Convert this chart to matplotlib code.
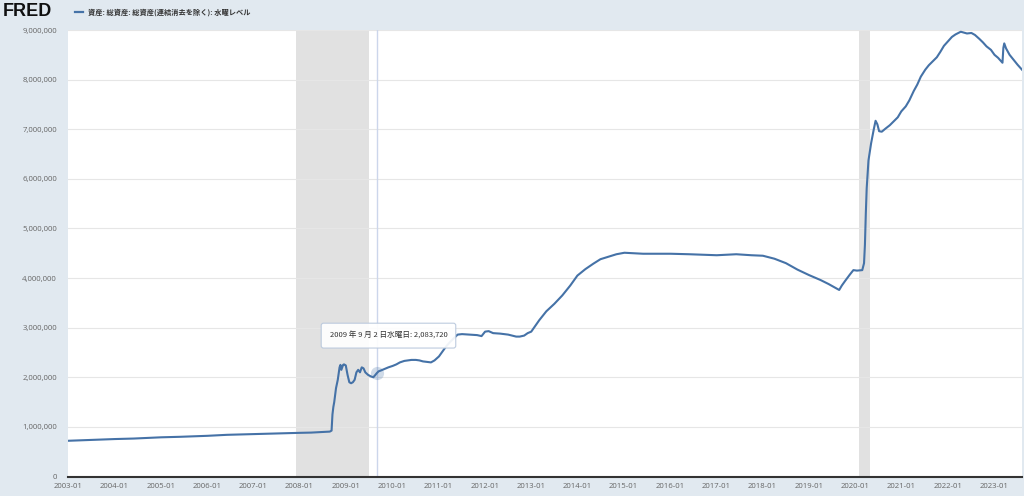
import matplotlib
matplotlib.use("Agg")
import matplotlib.pyplot as plt
import matplotlib.dates as mdates
from matplotlib.ticker import FuncFormatter
import pandas as pd

# weekly total assets (millions of dollars)
dates = [
    "2003-01-01", "2003-06-04", "2004-01-07", "2004-06-02", "2005-01-05", "2005-06-01",
    "2006-01-04", "2006-06-07", "2007-01-03", "2007-06-06", "2008-01-02", "2008-04-02",
    "2008-08-27", "2008-09-10", "2008-09-17", "2008-09-24", "2008-10-01", "2008-10-15",
    "2008-10-29", "2008-11-12", "2008-11-19", "2008-11-26", "2008-12-10", "2008-12-17",
    "2008-12-31", "2009-01-14", "2009-01-28", "2009-02-11", "2009-02-25", "2009-03-11",
    "2009-03-25", "2009-04-08", "2009-04-22", "2009-05-06", "2009-05-20", "2009-06-03",
    "2009-06-24", "2009-07-15", "2009-08-05", "2009-08-19", "2009-09-02", "2009-09-16",
    "2009-10-07", "2009-11-04", "2009-12-02", "2010-01-06", "2010-02-03", "2010-03-03",
    "2010-04-07", "2010-05-05", "2010-06-02", "2010-07-07", "2010-08-04", "2010-09-01",
    "2010-10-06", "2010-11-03", "2010-12-01", "2011-01-05", "2011-02-02", "2011-03-02",
    "2011-04-06", "2011-05-04", "2011-06-01", "2011-07-06", "2011-09-07", "2011-11-02",
    "2011-12-07", "2012-01-04", "2012-02-01", "2012-03-07", "2012-05-02", "2012-07-04",
    "2012-09-05", "2012-10-03", "2012-11-07", "2012-12-05", "2013-01-02", "2013-03-06",
    "2013-05-01", "2013-07-03", "2013-09-04", "2013-11-06", "2014-01-01", "2014-03-05",
    "2014-05-07", "2014-07-02", "2014-09-03", "2014-11-05", "2015-01-07", "2015-06-03",
    "2016-01-06", "2016-06-01", "2017-01-04", "2017-06-07", "2017-10-04", "2018-01-03",
    "2018-04-04", "2018-07-04", "2018-10-03", "2019-01-02", "2019-04-03", "2019-06-05",
    "2019-08-28", "2019-09-18", "2019-10-16", "2019-11-20", "2019-12-18", "2020-01-15",
    "2020-02-26", "2020-03-11", "2020-03-18", "2020-03-25", "2020-04-01", "2020-04-15",
    "2020-05-06", "2020-05-27", "2020-06-10", "2020-06-24", "2020-07-08", "2020-07-29",
    "2020-08-26", "2020-09-30", "2020-10-28", "2020-12-02", "2020-12-30", "2021-02-03",
    "2021-03-03", "2021-04-07", "2021-05-05", "2021-06-02", "2021-07-07", "2021-08-04",
    "2021-09-01", "2021-10-06", "2021-11-03", "2021-12-01", "2022-01-05", "2022-02-02",
    "2022-03-02", "2022-04-13", "2022-05-04", "2022-06-01", "2022-07-06", "2022-08-03",
    "2022-09-07", "2022-10-05", "2022-11-02", "2022-12-07", "2023-01-04", "2023-02-01",
    "2023-03-08", "2023-03-15", "2023-03-22", "2023-04-05", "2023-05-03", "2023-06-07",
    "2023-07-05", "2023-08-09",
]
values = [
    720000, 735000, 755000, 765000, 790000, 800000,
    820000, 840000, 855000, 865000, 880000, 885000,
    905000, 925000, 1250000, 1400000, 1500000, 1780000,
    1950000, 2200000, 2250000, 2150000, 2250000, 2260000,
    2240000, 2050000, 1900000, 1880000, 1900000, 1950000,
    2100000, 2150000, 2100000, 2200000, 2180000, 2100000,
    2050000, 2020000, 2000000, 2040000, 2083720, 2120000,
    2140000, 2170000, 2200000, 2230000, 2260000, 2300000,
    2330000, 2340000, 2350000, 2350000, 2340000, 2320000,
    2310000, 2300000, 2340000, 2420000, 2520000, 2620000,
    2720000, 2790000, 2860000, 2870000, 2860000, 2850000,
    2830000, 2920000, 2930000, 2890000, 2880000, 2860000,
    2820000, 2820000, 2840000, 2890000, 2920000, 3150000,
    3330000, 3480000, 3650000, 3850000, 4050000, 4180000,
    4290000, 4380000, 4430000, 4480000, 4510000, 4490000,
    4490000, 4480000, 4460000, 4480000, 4460000, 4450000,
    4390000, 4300000, 4170000, 4060000, 3960000, 3880000,
    3760000, 3850000, 3950000, 4070000, 4160000, 4150000,
    4160000, 4300000, 4670000, 5300000, 5810000, 6370000,
    6720000, 7000000, 7170000, 7100000, 6960000, 6950000,
    7010000, 7080000, 7150000, 7240000, 7360000, 7460000,
    7580000, 7770000, 7900000, 8060000, 8200000, 8290000,
    8360000, 8450000, 8560000, 8680000, 8780000, 8860000,
    8910000, 8965000, 8950000, 8930000, 8940000, 8900000,
    8820000, 8750000, 8670000, 8600000, 8500000, 8440000,
    8340000, 8640000, 8730000, 8630000, 8500000, 8390000,
    8300000, 8200000,
]
recession_start = ["2007-12-01", "2020-02-01"]
recession_end = ["2009-06-30", "2020-04-30"]
hover_date = "2009-09-02"
hover_value = 2083720

series_label = "資産: 総資産: 総資産(連結消去を除く): 水曜レベル"
hover_label = "2009 年 9 月 2 日水曜日: "

bg = "#e1e9f0"
line_color = "#4572a7"
cjk = ["Noto Sans CJK JP", "DejaVu Sans"]

x = pd.to_datetime(dates)

fig = plt.figure(figsize=(10.24, 4.96), dpi=100, facecolor=bg)
ax = fig.add_axes([68 / 1024, 19.5 / 496, 954 / 1024, 446.5 / 496])
ax.set_facecolor("white")

for s, e in zip(recession_start, recession_end):
    ax.axvspan(pd.Timestamp(s), pd.Timestamp(e), color="#e1e1e1", lw=0, zorder=1)

ax.axvline(pd.Timestamp(hover_date), color="#ccd6eb", lw=1, zorder=2)

ax.plot(x, values, color=line_color, lw=1.5, zorder=3, solid_joinstyle="round")

# hover point highlight
ax.scatter([pd.Timestamp(hover_date)], [hover_value], s=90, color=line_color,
           alpha=0.25, lw=0, zorder=4)

ax.set_xlim(pd.Timestamp("2003-01-01"), pd.Timestamp("2023-08-09"))
ax.set_ylim(0, 9000000)
ax.set_yticks(range(0, 9000001, 1000000))
ax.yaxis.set_major_formatter(FuncFormatter(lambda v, p: f"{int(v):,}"))
ax.xaxis.set_major_locator(mdates.YearLocator())
ax.xaxis.set_major_formatter(mdates.DateFormatter("%Y-%m"))

ax.grid(axis="y", color="#e6e6e6", lw=0.8, zorder=0)
for side in ["top", "right", "left"]:
    ax.spines[side].set_visible(False)
ax.spines["bottom"].set_color("#333333")
ax.spines["bottom"].set_linewidth(1.5)
ax.tick_params(axis="both", length=0, labelsize=5.6, labelcolor="#666666")
ax.tick_params(axis="y", pad=8)
ax.tick_params(axis="x", pad=5)
for lab in ax.get_xticklabels() + ax.get_yticklabels():
    lab.set_fontfamily("Open Sans")

# tooltip
ax.annotate(hover_label + f"{hover_value:,}", xy=(pd.Timestamp(hover_date), hover_value),
            xytext=(-34, 27), textcoords="offset points", ha="left", va="center",
            fontsize=5.5, color="#333333", family=cjk,
            bbox=dict(boxstyle="round,pad=1.1,rounding_size=0.3", fc="white",
                      ec="#b8c7dc", lw=0.8, alpha=0.92),
            zorder=6)

# header
fig.text(3 / 1024, 1 - 12 / 496, "FRED", fontsize=13, fontweight="bold",
         family="Liberation Sans", color="#111111", va="center", ha="left")
fig.add_artist(plt.Line2D([75 / 1024, 83 / 1024], [1 - 12 / 496, 1 - 12 / 496],
                          color=line_color, lw=1.6))
fig.text(88 / 1024, 1 - 12 / 496, series_label, fontsize=5.2, family=cjk,
         color="#333333", va="center", ha="left", fontweight="bold")

fig.savefig("out.png", dpi=100, facecolor=bg)
